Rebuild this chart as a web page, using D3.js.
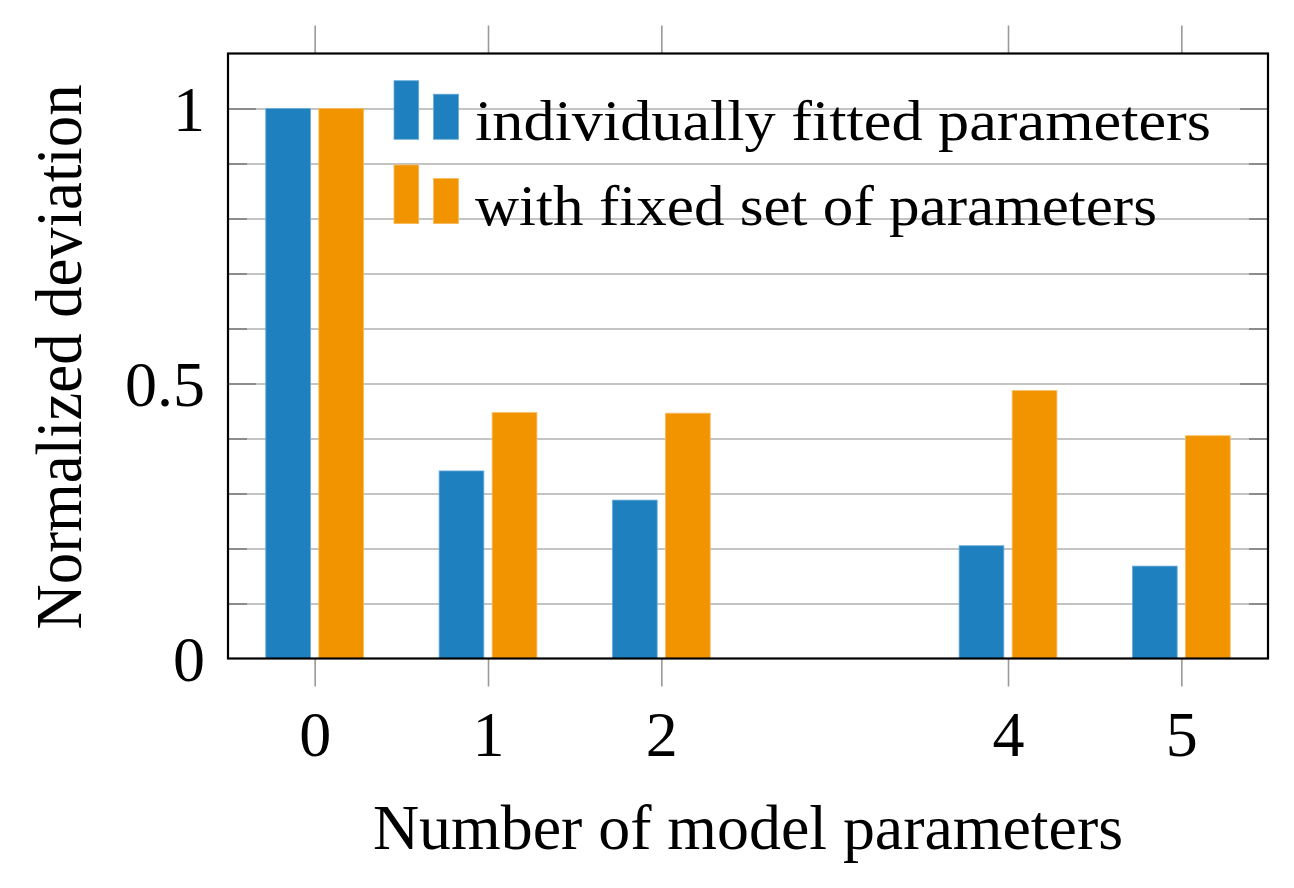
<!DOCTYPE html>
<html>
<head>
<meta charset="utf-8">
<script src="https://cdn.jsdelivr.net/npm/d3@7"></script>
<style>
  html, body { margin: 0; padding: 0; background: #fff; }
  svg { display: block; }
  text { font-family: "Liberation Serif", "DejaVu Serif", serif; fill: #000; }
</style>
</head>
<body>
<svg id="chart" width="1294" height="888"></svg>
<script>
// ---- data ----
const categories = [0, 1, 2, 4, 5];
const seriesNames = ["individually fitted parameters", "with fixed set of parameters"];
const individuallyFitted = [1.0, 0.341, 0.288, 0.205, 0.168];
const fixedSet = [1.0, 0.447, 0.446, 0.487, 0.405];
const xTickValues = [0, 1, 2, 4, 5];
const yMajorTicks = [0, 0.5, 1];
const yMinorTicks = [0, 0.1, 0.2, 0.3, 0.4, 0.5, 0.6, 0.7, 0.8, 0.9, 1.0];
const xTitle = "Number of model parameters";
const yTitle = "Normalized deviation";

// ---- layout ----
const colors = ["#1f80c0", "#f29300"];
const strokes = ["#6aaad6", "#f7bb5c"];
const L = 228, R = 1268, T = 53.5, B = 658.5;
const svg = d3.select("#chart");

const x = d3.scaleLinear().domain([-0.5, 5.5]).range([L, R]);
const y = d3.scaleLinear().domain([0, 1.1]).range([B, T]);

const barW = x(0.258) - x(0);
const offsets = [-0.153, 0.153];

// grid lines
svg.append("g").attr("transform", `translate(${L},0)`)
  .call(d3.axisLeft(y).tickValues(yMinorTicks.filter(d => d > 0)).tickSize(-(R - L)).tickFormat(""))
  .call(g => g.select(".domain").remove())
  .call(g => g.selectAll("line").attr("stroke", "#c4c4c4").attr("stroke-width", 2));

// inner y ticks, left & right
function innerTicks(xpos, dir) {
  const g = svg.append("g").attr("transform", `translate(${xpos},0)`);
  g.call((dir > 0 ? d3.axisRight(y) : d3.axisLeft(y)).tickValues(yMinorTicks.filter(d => d > 0)).tickSize(19).tickFormat(""))
   .call(gg => gg.select(".domain").remove())
   .call(gg => gg.selectAll("line").attr("stroke", "#8c8c8c").attr("stroke-width", 2));
  const g2 = svg.append("g").attr("transform", `translate(${xpos},0)`);
  g2.call((dir > 0 ? d3.axisRight(y) : d3.axisLeft(y)).tickValues(yMajorTicks.filter(d => d > 0)).tickSize(28).tickFormat(""))
   .call(gg => gg.select(".domain").remove())
   .call(gg => gg.selectAll("line").attr("stroke", "#8c8c8c").attr("stroke-width", 2));
}
innerTicks(L, 1);
innerTicks(R, -1);

// bars
const seriesData = [individuallyFitted, fixedSet];
seriesData.forEach((vals, si) => {
  svg.append("g").selectAll("rect").data(vals).join("rect")
    .attr("x", (d, i) => x(categories[i] + offsets[si]) - barW / 2)
    .attr("width", barW)
    .attr("y", d => y(d))
    .attr("height", d => y(0) - y(d))
    .attr("fill", colors[si])
    .attr("stroke", strokes[si])
    .attr("stroke-width", 0.8);
});

// y tick labels
svg.append("g").attr("transform", `translate(${L},0)`)
  .call(d3.axisLeft(y).tickValues(yMajorTicks).tickSize(0).tickPadding(23).tickFormat(d3.format("~g")))
  .call(g => g.select(".domain").remove())
  .call(g => g.selectAll("text").attr("font-size", 64).attr("font-family", "Liberation Serif").attr("dy", "0.34em"));

// x ticks bottom
svg.append("g").attr("transform", `translate(0,${B})`)
  .call(d3.axisBottom(x).tickValues(xTickValues).tickSize(28).tickPadding(24).tickFormat(d3.format("d")))
  .call(g => g.select(".domain").remove())
  .call(g => g.selectAll("line").attr("stroke", "#999").attr("stroke-width", 1.6))
  .call(g => g.selectAll("text").attr("font-size", 64).attr("font-family", "Liberation Serif"));

// x ticks top
svg.append("g").attr("transform", `translate(0,${T})`)
  .call(d3.axisTop(x).tickValues(xTickValues).tickSize(28).tickFormat(""))
  .call(g => g.select(".domain").remove())
  .call(g => g.selectAll("line").attr("stroke", "#999").attr("stroke-width", 1.6));

// frame
svg.append("rect").attr("x", L).attr("y", T).attr("width", R - L).attr("height", B - T)
  .attr("fill", "none").attr("stroke", "#000").attr("stroke-width", 2.2);

// legend
const legendRows = [
  { y0: 80.7, yBase: 140, txtEnd: 1211 },
  { y0: 165, yBase: 225, txtEnd: 1157 }
];
seriesNames.forEach((name, i) => {
  const row = legendRows[i];
  const g = svg.append("g");
  const bottom = row.y0 + 58.6;
  g.append("rect").attr("x", 394).attr("y", row.y0).attr("width", 24.7).attr("height", bottom - row.y0)
    .attr("fill", colors[i]).attr("stroke", strokes[i]).attr("stroke-width", 0.8);
  g.append("rect").attr("x", 433.5).attr("y", row.y0 + 13.5).attr("width", 25).attr("height", bottom - row.y0 - 13.5)
    .attr("fill", colors[i]).attr("stroke", strokes[i]).attr("stroke-width", 0.8);
  g.append("text").attr("x", 475).attr("y", row.yBase).attr("font-size", 56)
    .attr("textLength", row.txtEnd - 475).attr("lengthAdjust", "spacingAndGlyphs")
    .text(name);
});

// axis titles
svg.append("text").attr("x", 748).attr("y", 849).attr("text-anchor", "middle")
  .attr("font-size", 64).attr("textLength", 750).attr("lengthAdjust", "spacingAndGlyphs")
  .text(xTitle);
svg.append("text").attr("transform", "translate(81,357) rotate(-90)").attr("text-anchor", "middle")
  .attr("font-size", 66).attr("textLength", 545).attr("lengthAdjust", "spacingAndGlyphs")
  .text(yTitle);
</script>
</body>
</html>
